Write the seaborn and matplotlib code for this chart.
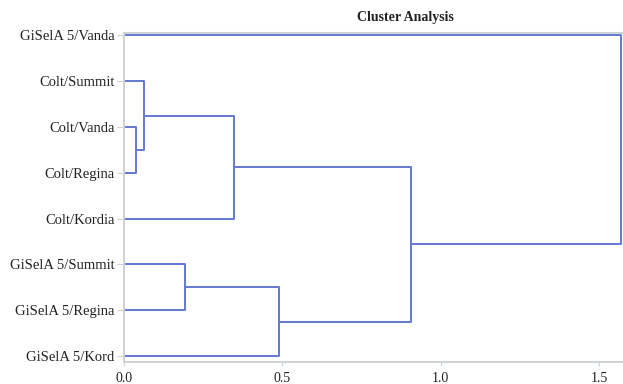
import matplotlib
matplotlib.use("Agg")
import matplotlib.pyplot as plt
import seaborn as sns
import pandas as pd

# Leaves, top to bottom
leaves = [
    "GiSelA 5/Vanda",
    "Colt/Summit",
    "Colt/Vanda",
    "Colt/Regina",
    "Colt/Kordia",
    "GiSelA 5/Summit",
    "GiSelA 5/Regina",
    "GiSelA 5/Kord",
]

# Merges: (left member, right member, distance); new clusters get ids 8, 9, ...
merge_a = [2, 1, 9, 5, 11, 10, 13]
merge_b = [3, 8, 4, 6, 7, 12, 0]
merge_h = [0.038, 0.063, 0.347, 0.192, 0.489, 0.905, 1.568]

x_ticks = [0.0, 0.5, 1.0, 1.5]

LINE = "#6479d2"
SPINE = "#cfd2d6"

sns.set_theme(style="white")
plt.rcParams["font.family"] = ["Liberation Serif", "DejaVu Serif"]

# compute dendrogram segments
pos = {i: (0.0, float(i)) for i in range(len(leaves))}  # (x, y) of each node
rows = []
for k, (a, b, h) in enumerate(zip(merge_a, merge_b, merge_h)):
    xa, ya = pos[a]
    xb, yb = pos[b]
    rows += [
        {"seg": k, "order": 0, "x": xa, "y": ya},
        {"seg": k, "order": 1, "x": h, "y": ya},
        {"seg": k, "order": 2, "x": h, "y": yb},
        {"seg": k, "order": 3, "x": xb, "y": yb},
    ]
    pos[len(leaves) + k] = (h, (ya + yb) / 2)
df = pd.DataFrame(rows)

fig = plt.figure(figsize=(6.23, 3.84), dpi=100)
ax = fig.add_axes([0.199, 0.057, 0.801, 0.857])

sns.lineplot(data=df, x="x", y="y", units="seg", estimator=None, sort=False,
             color=LINE, linewidth=1.4, ax=ax)

ax.set_xlim(0, 1.575)
ax.set_ylim(7.13, -0.05)
ax.set_xticks(x_ticks)
ax.set_xticklabels([f"{t:.1f}" for t in x_ticks], fontsize=10)
ax.set_yticks(range(len(leaves)))
ax.set_yticklabels(leaves, fontsize=10.5)
ax.set_xlabel("")
ax.set_ylabel("")
ax.tick_params(axis="y", left=True, length=5, width=0.8, color=SPINE, pad=2,
               labelcolor="#222222")
ax.tick_params(axis="x", bottom=True, length=3, width=0.8, color=SPINE, pad=4,
               labelcolor="#222222")
for s in ["left", "bottom", "top"]:
    ax.spines[s].set_color(SPINE)
    ax.spines[s].set_linewidth(1.5)
ax.spines["right"].set_visible(False)

fig.text(0.65, 0.955, "Cluster Analysis", ha="center", va="center",
         fontsize=10, fontweight="bold", color="#222222")

fig.savefig("out.png", dpi=100)
